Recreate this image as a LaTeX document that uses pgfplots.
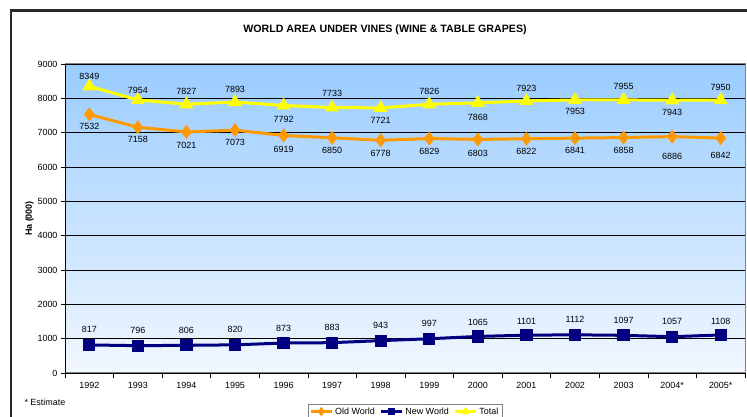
\documentclass[border=0pt]{standalone}
\usepackage{pgfplots}
\pgfplotsset{compat=1.18}
\usepackage{fontspec}
\setmainfont{Liberation Sans}
\definecolor{oldw}{RGB}{255,153,0}
\definecolor{neww}{RGB}{0,0,128}
\definecolor{totw}{RGB}{255,255,0}
\definecolor{bgtop}{RGB}{153,204,255}
\definecolor{bgbot}{RGB}{242,247,255}
\definecolor{frame}{RGB}{40,40,40}
\pgfplotsset{
  lbl/.style={draw=none, mark=none, forget plot,
    nodes near coords={\pgfmathprintnumber{\pgfplotspointmeta}},
    visualization depends on={\thisrow{dy}\as\dy},
    every node near coord/.style={anchor=center, yshift=\dy bp, inner sep=0pt,
      font=\fontsize{9}{10}\selectfont, text=black}},
}
\begin{document}
\begin{tikzpicture}
\path[use as bounding box] (0,0) rectangle (747bp,417bp);
\fill[white] (0,0) rectangle (747bp,417bp);
\draw[line width=2.6bp, color=frame] (11bp,0) -- (11bp,406.7bp) -- (760bp,406.7bp);
\node[font=\bfseries\fontsize{10.7}{12}\selectfont] at (385bp,387bp) {WORLD AREA UNDER VINES (WINE \& TABLE GRAPES)};
\node[anchor=west, font=\fontsize{9}{10}\selectfont] at (21bp,15bp) {* Estimate};
\begin{axis}[
  at={(65bp,44bp)}, anchor=south west,
  width=680bp, height=309bp, scale only axis,
  xmin=0.5, xmax=14.5, ymin=0, ymax=9000,
  xtick={1,...,14},
  xticklabels={1992,1993,1994,1995,1996,1997,1998,1999,2000,2001,2002,2003,2004*,2005*},
  minor xtick={0.5,1.5,...,14.5},
  major x tick style={draw=none},
  xtick pos=bottom, ytick pos=left,
  minor tick length=5bp,
  ytick={0,1000,...,9000},
  major tick length=4bp,
  tick align=outside,
  tick style={black, line width=0.6bp},
  ymajorgrids,
  grid style={black, line width=0.7bp},
  axis line style={draw=gray, line width=1bp},
  axis background/.style={top color=bgtop, bottom color=bgbot},
  scaled y ticks=false,
  /pgf/number format/.cd, 1000 sep={}, assume math mode=true,
  /pgfplots/.cd,
  tick label style={font=\fontsize{9}{10}\selectfont},
  xticklabel style={yshift=-2bp},
  ylabel={\bfseries Ha (000)},
  ylabel style={at={(axis description cs:-0.052,0.5)}, anchor=center, font=\bfseries\fontsize{9}{10}\selectfont},
  legend style={at={(0.5,-0.1)}, anchor=north, legend columns=3, draw=gray,
    font=\fontsize{9}{10}\selectfont, inner sep=1.5bp,
    /tikz/every even column/.append style={column sep=3bp}},
  legend cell align=left,
  legend image code/.code={\draw[#1, line width=2.5bp, mark size=2.6bp, mark repeat=2, mark phase=2]
    plot coordinates {(0bp,0bp) (10.5bp,0bp) (21bp,0bp)};},
]
\draw[black, line width=0.8bp] (rel axis cs:0,1) -- (rel axis cs:0,0) -- (rel axis cs:1,0);
% Old World
\addplot[color=oldw, line width=3bp, mark=diamond*, mark size=4.6bp] coordinates {
(1,7532) (2,7158) (3,7021) (4,7073) (5,6919) (6,6850) (7,6778) (8,6829) (9,6803) (10,6822) (11,6841) (12,6858) (13,6886) (14,6842)};
\addlegendentry{Old World}
% New World
\addplot[color=neww, line width=3bp, mark=square*, mark size=4.6bp] coordinates {
(1,817) (2,796) (3,806) (4,820) (5,873) (6,883) (7,943) (8,997) (9,1065) (10,1101) (11,1112) (12,1097) (13,1057) (14,1108)};
\addlegendentry{New World}
% Total
\addplot[color=totw, line width=3bp, mark=triangle*, mark size=5bp] coordinates {
(1,8349) (2,7954) (3,7827) (4,7893) (5,7792) (6,7733) (7,7721) (8,7826) (9,7868) (10,7923) (11,7953) (12,7955) (13,7943) (14,7950)};
\addlegendentry{Total}
% data labels
\addplot[lbl] table {
x y dy
1 7532 -12.5
2 7158 -12.5
3 7021 -13
4 7073 -12.5
5 6919 -14
6 6850 -13
7 6778 -13
8 6829 -13
9 6803 -14
10 6822 -12.5
11 6841 -12.5
12 6858 -12.5
13 6886 -20
14 6842 -17
};
\addplot[lbl] table {
x y dy
1 817 16
2 796 15
3 806 15
4 820 15
5 873 15
6 883 15
7 943 15
8 997 15
9 1065 14
10 1101 14
11 1112 15
12 1097 15
13 1057 15
14 1108 14
};
\addplot[lbl] table {
x y dy
1 8349 10
2 7954 9.5
3 7827 12.5
4 7893 12.5
5 7792 -13.5
6 7733 14
7 7721 -12.5
8 7826 12.5
9 7868 -14.5
10 7923 13
11 7953 -11.5
12 7955 13
13 7943 -12.5
14 7950 12.5
};
\end{axis}
\end{tikzpicture}
\end{document}
